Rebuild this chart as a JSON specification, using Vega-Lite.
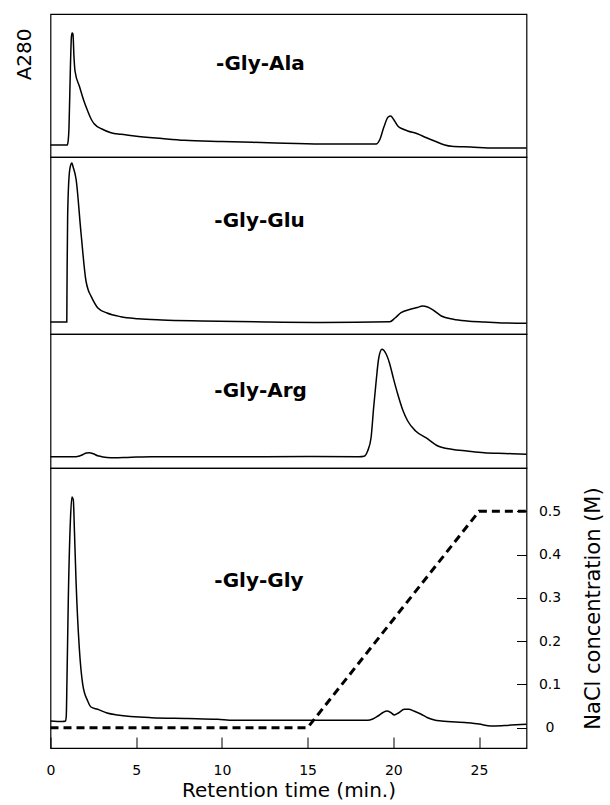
{
  "$schema": "https://vega.github.io/schema/vega-lite/v6.json",
  "padding": {"left": 13.5, "top": 13, "right": 5, "bottom": 5},
  "spacing": 0,
  "bounds": "flush",
  "config": {
    "font": "DejaVu Sans",
    "view": {"stroke": "black", "strokeWidth": 1.2},
    "axis": {"grid": false, "domain": false, "labelColor": "black", "titleColor": "black", "tickColor": "black", "labelFont": "DejaVu Sans", "titleFont": "DejaVu Sans", "titleFontWeight": "normal"}
  },
  "datasets": {
    "traces": [
      {"panel":"Ala","t":0,"a":12},{"panel":"Ala","t":0.98,"a":12},{"panel":"Ala","t":1.03,"a":16},{"panel":"Ala","t":1.08,"a":30},{"panel":"Ala","t":1.16,"a":89},{"panel":"Ala","t":1.22,"a":120},{"panel":"Ala","t":1.26,"a":124},{"panel":"Ala","t":1.31,"a":123},{"panel":"Ala","t":1.37,"a":100},{"panel":"Ala","t":1.43,"a":86},{"panel":"Ala","t":1.7,"a":70},{"panel":"Ala","t":1.95,"a":56},{"panel":"Ala","t":2.17,"a":46},{"panel":"Ala","t":2.4,"a":37},{"panel":"Ala","t":2.56,"a":33},{"panel":"Ala","t":3.0,"a":28},{"panel":"Ala","t":3.53,"a":24.3},{"panel":"Ala","t":4.11,"a":22.7},{"panel":"Ala","t":4.9,"a":21},{"panel":"Ala","t":6.5,"a":18.5},{"panel":"Ala","t":7.8,"a":16.7},{"panel":"Ala","t":10,"a":15.5},{"panel":"Ala","t":12.7,"a":14.3},{"panel":"Ala","t":15.8,"a":13},{"panel":"Ala","t":19.0,"a":13},{"panel":"Ala","t":19.2,"a":17},{"panel":"Ala","t":19.45,"a":30},{"panel":"Ala","t":19.7,"a":40},{"panel":"Ala","t":19.85,"a":41},{"panel":"Ala","t":20.0,"a":38},{"panel":"Ala","t":20.26,"a":31},{"panel":"Ala","t":20.55,"a":28},{"panel":"Ala","t":20.84,"a":26},{"panel":"Ala","t":21.4,"a":23.3},{"panel":"Ala","t":21.9,"a":19.5},{"panel":"Ala","t":22.4,"a":16},{"panel":"Ala","t":23.0,"a":12},{"panel":"Ala","t":23.4,"a":10.7},{"panel":"Ala","t":24.5,"a":10},{"panel":"Ala","t":25.9,"a":9},{"panel":"Ala","t":27.77,"a":9},
      {"panel":"Glu","t":0,"a":12},{"panel":"Glu","t":0.95,"a":12},{"panel":"Glu","t":0.96,"a":40},{"panel":"Glu","t":0.97,"a":65},{"panel":"Glu","t":1.0,"a":118},{"panel":"Glu","t":1.1,"a":161},{"panel":"Glu","t":1.2,"a":170},{"panel":"Glu","t":1.25,"a":171},{"panel":"Glu","t":1.32,"a":167},{"panel":"Glu","t":1.49,"a":155},{"panel":"Glu","t":1.78,"a":101},{"panel":"Glu","t":2.07,"a":53},{"panel":"Glu","t":2.2,"a":44},{"panel":"Glu","t":2.36,"a":38},{"panel":"Glu","t":2.75,"a":26.3},{"panel":"Glu","t":3.3,"a":21},{"panel":"Glu","t":4.1,"a":17.3},{"panel":"Glu","t":5.1,"a":15.3},{"panel":"Glu","t":6.5,"a":14},{"panel":"Glu","t":8.8,"a":13},{"panel":"Glu","t":12.7,"a":12},{"panel":"Glu","t":15.8,"a":11.5},{"panel":"Glu","t":19.8,"a":12.3},{"panel":"Glu","t":20.1,"a":16},{"panel":"Glu","t":20.45,"a":21.3},{"panel":"Glu","t":21.0,"a":24.7},{"panel":"Glu","t":21.4,"a":26.5},{"panel":"Glu","t":21.7,"a":28},{"panel":"Glu","t":22.0,"a":27},{"panel":"Glu","t":22.4,"a":23},{"panel":"Glu","t":22.8,"a":18},{"panel":"Glu","t":23.5,"a":14.7},{"panel":"Glu","t":24.3,"a":13},{"panel":"Glu","t":25.3,"a":12},{"panel":"Glu","t":26.5,"a":11},{"panel":"Glu","t":27.77,"a":10.7},
      {"panel":"Arg","t":0,"a":11.3},{"panel":"Arg","t":1.5,"a":11.3},{"panel":"Arg","t":1.65,"a":11.8},{"panel":"Arg","t":1.9,"a":13.5},{"panel":"Arg","t":2.1,"a":15},{"panel":"Arg","t":2.27,"a":15.3},{"panel":"Arg","t":2.5,"a":14.2},{"panel":"Arg","t":2.75,"a":12.3},{"panel":"Arg","t":2.95,"a":11.5},{"panel":"Arg","t":3.3,"a":10.5},{"panel":"Arg","t":3.7,"a":10.3},{"panel":"Arg","t":4.5,"a":10.6},{"panel":"Arg","t":5.9,"a":11.3},{"panel":"Arg","t":10,"a":11.3},{"panel":"Arg","t":15,"a":11.4},{"panel":"Arg","t":18.0,"a":11.3},{"panel":"Arg","t":18.3,"a":11.8},{"panel":"Arg","t":18.5,"a":17},{"panel":"Arg","t":18.7,"a":30},{"panel":"Arg","t":18.85,"a":60},{"panel":"Arg","t":19.0,"a":87},{"panel":"Arg","t":19.15,"a":110},{"panel":"Arg","t":19.34,"a":118.7},{"panel":"Arg","t":19.55,"a":115},{"panel":"Arg","t":19.77,"a":105.3},{"panel":"Arg","t":20.0,"a":90},{"panel":"Arg","t":20.26,"a":73.7},{"panel":"Arg","t":20.55,"a":58},{"panel":"Arg","t":20.84,"a":47},{"panel":"Arg","t":21.3,"a":37},{"panel":"Arg","t":21.9,"a":30.3},{"panel":"Arg","t":22.6,"a":22},{"panel":"Arg","t":23.4,"a":18.7},{"panel":"Arg","t":24.3,"a":17},{"panel":"Arg","t":25.3,"a":15.3},{"panel":"Arg","t":26.5,"a":14.5},{"panel":"Arg","t":27.77,"a":13.7},
      {"panel":"Gly","t":0,"a":27},{"panel":"Gly","t":0.7,"a":26.5},{"panel":"Gly","t":0.88,"a":27},{"panel":"Gly","t":0.92,"a":32},{"panel":"Gly","t":0.96,"a":67},{"panel":"Gly","t":1.04,"a":150},{"panel":"Gly","t":1.16,"a":227},{"panel":"Gly","t":1.25,"a":251},{"panel":"Gly","t":1.33,"a":248},{"panel":"Gly","t":1.4,"a":215},{"panel":"Gly","t":1.49,"a":167},{"panel":"Gly","t":1.68,"a":100},{"panel":"Gly","t":1.88,"a":63.7},{"panel":"Gly","t":2.17,"a":47},{"panel":"Gly","t":2.36,"a":41},{"panel":"Gly","t":2.75,"a":38.7},{"panel":"Gly","t":3.3,"a":35},{"panel":"Gly","t":3.9,"a":33},{"panel":"Gly","t":5.9,"a":30.3},{"panel":"Gly","t":8,"a":29.5},{"panel":"Gly","t":9.75,"a":28.7},{"panel":"Gly","t":10.7,"a":27.7},{"panel":"Gly","t":15,"a":27.7},{"panel":"Gly","t":18.5,"a":27.7},{"panel":"Gly","t":18.8,"a":29},{"panel":"Gly","t":19.1,"a":32},{"panel":"Gly","t":19.4,"a":35.5},{"panel":"Gly","t":19.63,"a":37},{"panel":"Gly","t":19.85,"a":35.5},{"panel":"Gly","t":20.06,"a":33},{"panel":"Gly","t":20.3,"a":35},{"panel":"Gly","t":20.64,"a":38.7},{"panel":"Gly","t":20.9,"a":38.8},{"panel":"Gly","t":21.2,"a":37},{"panel":"Gly","t":21.6,"a":34},{"panel":"Gly","t":22.0,"a":30.3},{"panel":"Gly","t":22.4,"a":28},{"panel":"Gly","t":22.8,"a":27},{"panel":"Gly","t":24.3,"a":25.3},{"panel":"Gly","t":25.0,"a":24},{"panel":"Gly","t":25.7,"a":22},{"panel":"Gly","t":26.5,"a":22.5},{"panel":"Gly","t":27.77,"a":23.7}
    ],
    "labels": [
      {"panel":"Ala","label":"-Gly-Ala","t":9.66,"a":93},
      {"panel":"Glu","label":"-Gly-Glu","t":9.56,"a":113},
      {"panel":"Arg","label":"-Gly-Arg","t":9.56,"a":77},
      {"panel":"Gly","label":"-Gly-Gly","t":9.56,"a":167}
    ],
    "gradient": [
      {"t":0,"nacl":0},{"t":15,"nacl":0},{"t":25,"nacl":0.5},{"t":27.77,"nacl":0.5}
    ]
  },
  "vconcat": [
    {
      "width": 476, "height": 143,
      "encoding": {
        "x": {"field":"t","type":"quantitative","scale":{"domain":[0,27.77],"nice":false},"axis":null},
        "y": {"field":"a","type":"quantitative","scale":{"domain":[0,143],"nice":false},
              "axis":{"title":"A280","labels":false,"ticks":false,"titleFontSize":20,"titleAnchor":"end","titleAlign":"right","titleY":14,"titleBaseline":"alphabetic","titlePadding":20}}
      },
      "layer": [
        {"data":{"name":"traces"},"transform":[{"filter":"datum.panel === 'Ala'"}],
         "mark":{"type":"line","color":"black","strokeWidth":1.5,"interpolate":"monotone"}},
        {"data":{"name":"labels"},"transform":[{"filter":"datum.panel === 'Ala'"}],
         "mark":{"type":"text","fontWeight":"bold","fontSize":20,"align":"left","baseline":"middle","color":"black"},
         "encoding":{"text":{"field":"label"}}}
      ]
    },
    {
      "width": 476, "height": 177,
      "encoding": {
        "x": {"field":"t","type":"quantitative","scale":{"domain":[0,27.77],"nice":false},"axis":null},
        "y": {"field":"a","type":"quantitative","scale":{"domain":[0,177],"nice":false},"axis":null}
      },
      "layer": [
        {"data":{"name":"traces"},"transform":[{"filter":"datum.panel === 'Glu'"}],
         "mark":{"type":"line","color":"black","strokeWidth":1.5,"interpolate":"monotone"}},
        {"data":{"name":"labels"},"transform":[{"filter":"datum.panel === 'Glu'"}],
         "mark":{"type":"text","fontWeight":"bold","fontSize":20,"align":"left","baseline":"middle","color":"black"},
         "encoding":{"text":{"field":"label"}}}
      ]
    },
    {
      "width": 476, "height": 134,
      "encoding": {
        "x": {"field":"t","type":"quantitative","scale":{"domain":[0,27.77],"nice":false},"axis":null},
        "y": {"field":"a","type":"quantitative","scale":{"domain":[0,134],"nice":false},"axis":null}
      },
      "layer": [
        {"data":{"name":"traces"},"transform":[{"filter":"datum.panel === 'Arg'"}],
         "mark":{"type":"line","color":"black","strokeWidth":1.5,"interpolate":"monotone"}},
        {"data":{"name":"labels"},"transform":[{"filter":"datum.panel === 'Arg'"}],
         "mark":{"type":"text","fontWeight":"bold","fontSize":20,"align":"left","baseline":"middle","color":"black"},
         "encoding":{"text":{"field":"label"}}}
      ]
    },
    {
      "width": 476, "height": 280,
      "layer": [
        {"data":{"name":"traces"},"transform":[{"filter":"datum.panel === 'Gly'"}],
         "mark":{"type":"line","color":"black","strokeWidth":1.5,"interpolate":"monotone"},
         "encoding": {
           "x": {"field":"t","type":"quantitative","scale":{"domain":[0,27.77],"nice":false},
                 "axis":{"title":"Retention time (min.)","values":[0,5,10,15,20,25],"tickSize":-11,"labelPadding":26,"labelFontSize":14,"titleFontSize":20,"titlePadding":3,"labelFlush":false}},
           "y": {"field":"a","type":"quantitative","scale":{"domain":[0,280],"nice":false},"axis":null}
         }},
        {"data":{"name":"labels"},"transform":[{"filter":"datum.panel === 'Gly'"}],
         "mark":{"type":"text","fontWeight":"bold","fontSize":20,"align":"left","baseline":"middle","color":"black"},
         "encoding":{
           "x": {"field":"t","type":"quantitative"},
           "y": {"field":"a","type":"quantitative","scale":{"domain":[0,280],"nice":false},"axis":null},
           "text":{"field":"label"}}},
        {"data":{"name":"gradient"},
         "mark":{"type":"line","color":"black","strokeWidth":3,"strokeDash":[8,5]},
         "encoding": {
           "x": {"field":"t","type":"quantitative"},
           "y": {"field":"nacl","type":"quantitative","scale":{"domain":[-0.047,0.6],"nice":false,"zero":false},
                 "axis":{"orient":"right","title":"NaCl concentration (M)","values":[0,0.1,0.2,0.3,0.4,0.5],
                         "labelExpr":"datum.value == 0 ? '0' : format(datum.value, '.1f')",
                         "tickSize":-10,"labelPadding":33,"labelAlign":"center","labelFontSize":14,
                         "titleFontSize":21,"titleAngle":270,"titleBaseline":"alphabetic","titlePadding":39}}
         }}
      ],
      "resolve": {"scale": {"y": "independent"}}
    }
  ]
}
